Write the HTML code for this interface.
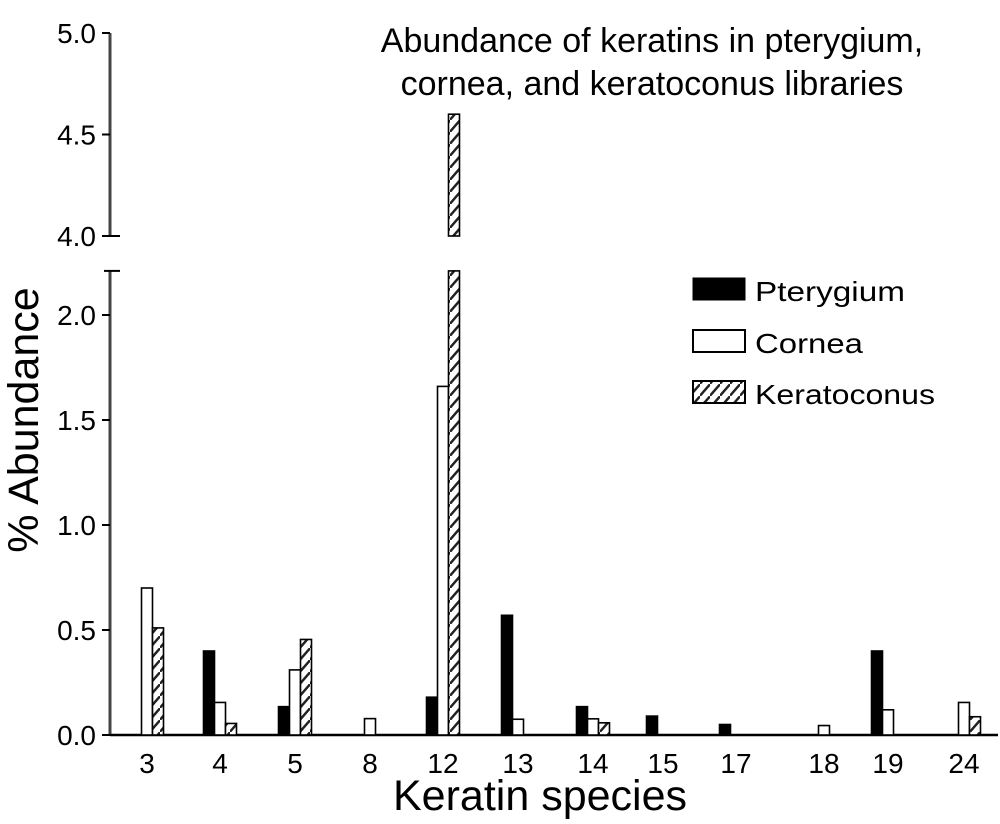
<!DOCTYPE html>
<html><head><meta charset="utf-8"><style>
body{margin:0;background:#fff;}
svg text{font-family:"Liberation Sans",Arial,sans-serif;fill:#000;}
</style></head><body>
<svg id="chart" width="1000" height="819" viewBox="0 0 1000 819">
<defs>
<pattern id="hatch" width="10" height="12" patternUnits="userSpaceOnUse">
<rect width="10" height="12" fill="#fff"/>
<path d="M-2,14 L12,-2" stroke="#222" stroke-width="2.5"/>
</pattern>
</defs>
<text x="652" y="52" font-size="34" text-anchor="middle">Abundance of keratins in pterygium,</text>
<text x="652" y="95" font-size="34" text-anchor="middle">cornea, and keratoconus libraries</text>
<text transform="translate(38,420) rotate(-90)" font-size="43" text-anchor="middle">% Abundance</text>
<text x="540" y="810" font-size="43" text-anchor="middle">Keratin species</text>
<g id="axes"></g>
<g id="bars"></g>
<g>
<rect x="693" y="278" width="52" height="22" fill="#000" stroke="#000"/>
<text x="755" y="301" font-size="28" textLength="150" lengthAdjust="spacingAndGlyphs">Pterygium</text>
<rect x="693" y="330" width="52" height="22" fill="#fff" stroke="#000" stroke-width="2"/>
<text x="755" y="353" font-size="28" textLength="108" lengthAdjust="spacingAndGlyphs">Cornea</text>
<rect x="693" y="381" width="52" height="22" fill="url(#hatch)" stroke="#000" stroke-width="2"/>
<text x="755" y="404" font-size="28" textLength="180" lengthAdjust="spacingAndGlyphs">Keratoconus</text>
</g>
</svg>
<script>
const categories=["3","4","5","8","12","13","14","15","17","18","19","24"];
const pterygium=[0,0.40,0.135,0,0.18,0.57,0.135,0.09,0.05,0,0.40,0];
const cornea=[0.70,0.155,0.31,0.078,1.66,0.075,0.077,0,0,0.045,0.12,0.155];
const keratoconus=[0.51,0.055,0.455,0,4.6,0,0.058,0,0,0,0,0.087];
const lowerTicks=[0,0.5,1.0,1.5,2.0];
const upperTicks=[4.0,4.5,5.0];
const groupCenters=[147,220,295,370,443,518,593,663,736,824,888,964];
const NS="http://www.w3.org/2000/svg";
const AX=110, Y0=735, LOW_PX=210, LOW_MAX=2.21, UP_BASE=236, UP_PX=203;
function yLow(v){return Y0-Math.min(v,LOW_MAX)*LOW_PX;}
function yUp(v){return UP_BASE-(v-4)*UP_PX;}
function mk(tag,attrs,parent){const e=document.createElementNS(NS,tag);for(const k in attrs)e.setAttribute(k,attrs[k]);parent.appendChild(e);return e;}
const axes=document.getElementById('axes');
const bars=document.getElementById('bars');
let e=mk('line',{x1:AX,y1:yLow(LOW_MAX),x2:AX,y2:Y0,stroke:'#444','stroke-width':3},axes);


e=mk('line',{x1:AX,y1:yUp(5),x2:AX,y2:UP_BASE,stroke:'#444','stroke-width':3},axes);


e=mk('line',{x1:AX,y1:Y0,x2:998,y2:Y0,stroke:'#000','stroke-width':2.5},axes);


e=mk('line',{x1:104,y1:yLow(LOW_MAX),x2:120,y2:yLow(LOW_MAX),stroke:'#000','stroke-width':2},axes);


lowerTicks.forEach(v=>{const y=yLow(v);
 let t=mk('line',{x1:102,y1:y,x2:AX,y2:y,stroke:'#000','stroke-width':2},axes);
 
 
 let l=mk('text',{x:96,y:y+10,'font-size':28,'text-anchor':'end'},axes);l.textContent=v.toFixed(1);
 
 
});
upperTicks.forEach(v=>{const y=yUp(v);
 let t=mk('line',{x1:102,y1:y,x2:v===4?120:AX,y2:y,stroke:'#000','stroke-width':2},axes);
 
 
 let l=mk('text',{x:96,y:y+10,'font-size':28,'text-anchor':'end'},axes);l.textContent=v.toFixed(1);
 
 
});
const BW=11;
const series=[[pterygium,-BW,'#000','pterygium'],[cornea,0,'#fff','cornea'],[keratoconus,BW,'url(#hatch)','keratoconus']];
categories.forEach((c,i)=>{
 const cx=groupCenters[i];
 let l=mk('text',{x:cx,y:773,'font-size':28,'text-anchor':'middle'},axes);l.textContent=c;
 
 
 series.forEach(([arr,off,fill,name])=>{
  const v=arr[i]; if(!v)return;
  const x=cx+off-BW/2;
  const yt=yLow(v);
  let r=mk('rect',{x:x,y:yt,width:BW,height:Y0-yt,fill:fill,stroke:'#000','stroke-width':1.6},bars);
  
  
  if(v>LOW_MAX){
   const yu=yUp(Math.min(v,5));
   let r2=mk('rect',{x:x,y:yu,width:BW,height:UP_BASE-yu,fill:fill,stroke:'#000','stroke-width':1.6},bars);
   
   
  }
 });
});
</script>
</body></html>
